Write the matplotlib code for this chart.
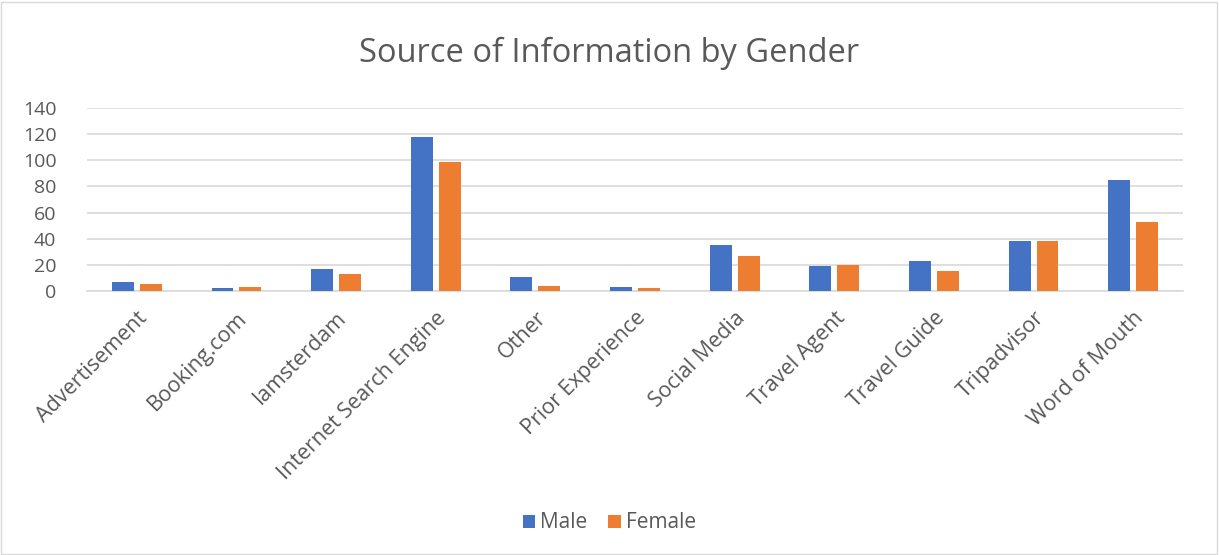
import numpy as np
import matplotlib.pyplot as plt
from matplotlib.patches import Rectangle

categories = ['Advertisement', 'Booking.com', 'Iamsterdam', 'Internet Search Engine',
              'Other', 'Prior Experience', 'Social Media', 'Travel Agent',
              'Travel Guide', 'Tripadvisor', 'Word of Mouth']
male = [7, 2, 17, 118, 11, 3, 35, 19, 23, 38, 85]
female = [5, 3, 13, 99, 4, 2, 27, 20, 15, 38, 53]
yticks = [0, 20, 40, 60, 80, 100, 120, 140]

plt.rcParams['font.family'] = ['Open Sans', 'DejaVu Sans']
txt = '#595959'

fig = plt.figure(figsize=(12.19, 5.55), dpi=100)
ax = fig.add_axes([87 / 1219, 1 - 291 / 555, (1183 - 87) / 1219, (291 - 108) / 555])

x = np.arange(len(categories))
w = 0.22
ax.bar(x - 0.14, male, w, color='#4472C4', label='Male', zorder=3)
ax.bar(x + 0.14, female, w, color='#ED7D31', label='Female', zorder=3)

ax.set_xlim(-0.5, len(categories) - 0.5)
ax.set_ylim(0, 140)
ax.set_yticks(yticks)
ax.set_yticklabels([str(v) for v in yticks], fontsize=14, color=txt)
ax.set_xticks(x)
ax.set_xticklabels(categories, rotation=45, ha='right', rotation_mode='anchor',
                   fontsize=15.5, color=txt)
ax.tick_params(axis='y', length=0, pad=22)
ax.tick_params(axis='x', length=0, pad=12)
ax.yaxis.grid(True, color='#D9D9D9', linewidth=1.2, zorder=0)
for s in ['top', 'right', 'left']:
    ax.spines[s].set_visible(False)
ax.spines['bottom'].set_color('#D9D9D9')
ax.spines['bottom'].set_linewidth(1.2)

fig.text(0.5, 1 - 53 / 555, 'Source of Information by Gender', ha='center', va='center',
         fontsize=23.5, color=txt)

fig.legend(loc='center', bbox_to_anchor=(0.5, 1 - 523 / 555), ncol=2, frameon=False,
           fontsize=15, labelcolor=txt, handlelength=0.6, handleheight=0.6,
           handletextpad=0.25, columnspacing=1.0)

fig.patches.append(Rectangle((0.001, 0.002), 0.997, 0.995, transform=fig.transFigure,
                             fill=False, edgecolor='#D9D9D9', linewidth=1))

fig.savefig('out.png', dpi=100)
